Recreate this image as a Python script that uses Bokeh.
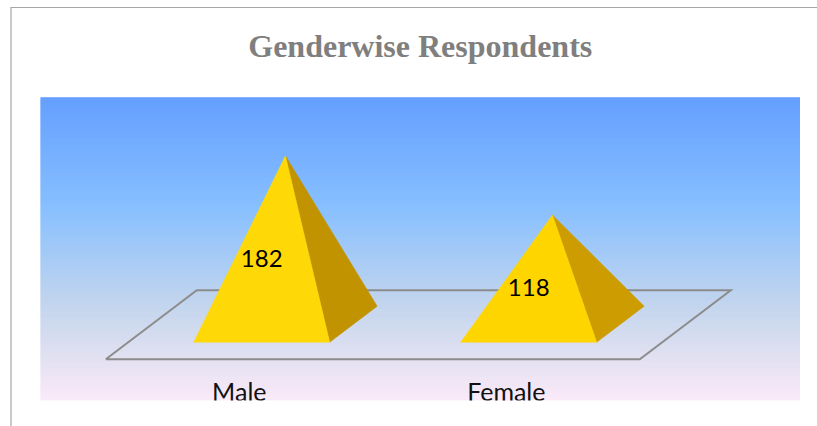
from bokeh.plotting import figure
from bokeh.embed import file_html
from bokeh.resources import INLINE
from bokeh.core.properties import value

# ---- data ----
categories = ["Male", "Female"]
respondents = [182, 118]
chart_title = "Genderwise Respondents"
front_colors = ["#FFD907", "#FFD500"]
side_colors = ["#C29300", "#CC9C00"]

# ---- layout (canvas pixels) ----
W, H = 817, 426
FL, FR, FT, FB = 40, 799.5, 97, 400    # coloured plot area
X0, Y0 = 105.3, 358.7                  # canvas position of (0, 0)
PX_PER_CAT, PX_PER_VAL = 267, 0.925
DEPTH_X = 91 / PX_PER_CAT              # oblique depth vector
DEPTH_Y = 69 / PX_PER_VAL
D_FRONT, D_BACK = 0.246, 0.768         # pyramid base depth on the floor
HALF = 68 / PX_PER_CAT                 # half width of pyramid base


def proj(cx, val, d):
    return cx + DEPTH_X * d, val + DEPTH_Y * d


def sx(px):
    return (px - X0) / PX_PER_CAT


def sy(px):
    return (Y0 - px) / PX_PER_VAL


p = figure(
    width=W, height=H, output_backend="svg", toolbar_location=None,
    x_range=(sx(0), sx(W)), y_range=(sy(H), sy(0)),
    min_border=0,
)
p.xaxis.visible = False
p.yaxis.visible = False
p.grid.visible = False
p.outline_line_color = None
p.background_fill_color = "white"
p.border_fill_color = "white"

# background gradient, one band per pixel row
STOPS = [(0.0, (90, 153, 255)), (0.36, (127, 187, 255)), (0.68, (190, 210, 236)),
         (0.85, (222, 222, 240)), (1.0, (250, 232, 248))]


def grad(t):
    for (t0, c0), (t1, c1) in zip(STOPS, STOPS[1:]):
        if t <= t1:
            f = (t - t0) / (t1 - t0)
            return "#%02x%02x%02x" % tuple(round(a + (b - a) * f) for a, b in zip(c0, c1))
    return "#%02x%02x%02x" % STOPS[-1][1]


rows = FB - FT
ys = [sy(FT + i + 0.5) for i in range(rows)]
cols = [grad((i + 0.5) / rows) for i in range(rows)]
p.hbar(y=ys, height=1.4 / PX_PER_VAL, left=sx(FL), right=sx(FR),
       fill_color=cols, line_color=None)

# floor
n = len(categories)
fx, fy = zip(*[proj(0, 0, 0), proj(n, 0, 0), proj(n, 0, 1), proj(0, 0, 1), proj(0, 0, 0)])
p.line(list(fx), list(fy), line_color="#8C8C8C", line_width=2, line_join="miter")

# pyramids
for i, (v, fc, sc) in enumerate(zip(respondents, front_colors, side_colors)):
    c = i + 0.5
    fl = proj(c - HALF, 0, D_FRONT)
    fr = proj(c + HALF, 0, D_FRONT)
    br = proj(c + HALF, 0, D_BACK)
    ax, ay = proj(c, v, (D_FRONT + D_BACK) / 2)
    p.patch([fr[0], br[0], ax], [fr[1], br[1], ay], fill_color=sc, line_color=sc, line_width=0.5)
    p.patch([fl[0], fr[0], ax], [fl[1], fr[1], ay], fill_color=fc, line_color=fc, line_width=0.5)
    lx, ly = proj(c, v / 2, D_FRONT)
    p.text([lx], [ly], text=[str(v)], text_font=value("Lato"), text_font_size="24px",
           text_color="black", text_align="center", text_baseline="middle")

# category labels, cut off at the bottom of the coloured area by a white strip
p.text([i + 0.5 for i in range(n)], [-31.3 / PX_PER_VAL] * n, text=categories,
       text_font=value("Lato"), text_font_size="25px", text_color="#111111",
       text_align="center", text_baseline="middle")
p.quad(left=sx(FL), right=sx(FR), top=sy(FB), bottom=sy(H), fill_color="white", line_color=None)

# title
p.text([sx((FL + FR) / 2)], [sy(45.5)], text=[chart_title], text_font=value("Liberation Serif"),
       text_font_size="32px", text_font_style="bold", text_color="#7F7F7F",
       text_align="center", text_baseline="middle")

# page-like border along the top and left
p.line([sx(10.5), sx(10.5), sx(W)], [sy(H), sy(7), sy(7)], line_color="#A6A6A6", line_width=1.2,
       line_join="miter")

open("out.html", "w").write(file_html(p, INLINE))
